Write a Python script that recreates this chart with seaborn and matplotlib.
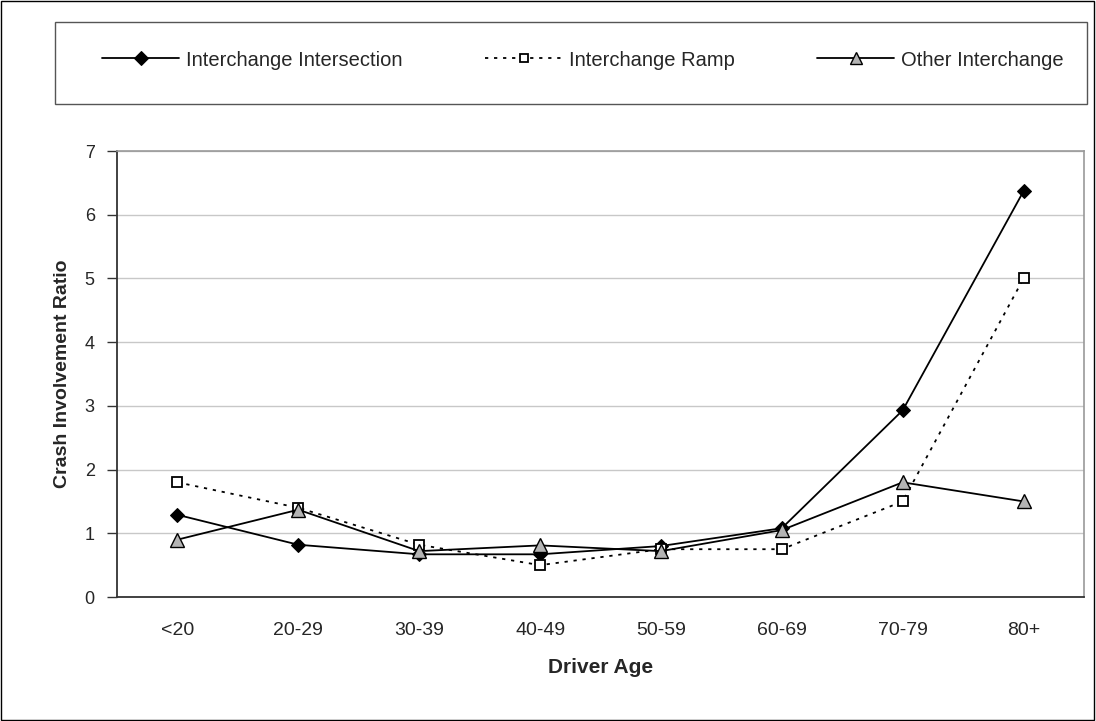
import matplotlib
matplotlib.use("Agg")
import matplotlib.pyplot as plt
import seaborn as sns
import pandas as pd
from matplotlib.patches import Rectangle
from matplotlib.ticker import FixedLocator

ages = ["<20", "20-29", "30-39", "40-49", "50-59", "60-69", "70-79", "80+"]
intersection = [1.29, 0.82, 0.67, 0.67, 0.80, 1.08, 2.93, 6.37]
ramp = [1.80, 1.40, 0.82, 0.50, 0.75, 0.75, 1.50, 5.00]
other = [0.90, 1.37, 0.72, 0.81, 0.72, 1.05, 1.80, 1.50]
series_names = ["Interchange Intersection", "Interchange Ramp", "Other Interchange"]
y_ticks = [0, 1, 2, 3, 4, 5, 6, 7]

sns.set_style("white")
plt.rcParams['font.family'] = ['Liberation Sans', 'DejaVu Sans']

rows = []
for name, vals in zip(series_names, [intersection, ramp, other]):
    for i, (a, v) in enumerate(zip(ages, vals)):
        rows.append({"pos": i, "age": a, "ratio": v, "series": name})
df = pd.DataFrame(rows)

fig = plt.figure(figsize=(10.96, 7.21), dpi=100)
fig.patch.set_facecolor("white")
fig.patches.append(Rectangle((0.0005, 0.001), 0.998, 0.998, transform=fig.transFigure,
                             fill=False, edgecolor="black", linewidth=1.0))
ax = fig.add_axes([117/1096, 1 - 597/721, (1084-117)/1096, (597-151)/721])

palette = {n: "black" for n in series_names}
dashes = {series_names[0]: "", series_names[1]: (1.8, 3.2), series_names[2]: ""}
markers = {series_names[0]: "D", series_names[1]: "s", series_names[2]: "^"}

sns.lineplot(data=df, x="pos", y="ratio", hue="series", style="series",
             palette=palette, dashes=dashes, markers=markers, sort=False,
             linewidth=1.3, ax=ax, legend=True)

def style_line(line, name, legend=False):
    if name == series_names[0]:
        line.set_markerfacecolor("black"); line.set_markeredgecolor("black")
        line.set_markersize(7)
    elif name == series_names[1]:
        line.set_markerfacecolor("white"); line.set_markeredgecolor("black")
        line.set_markersize(6 if legend else 7); line.set_markeredgewidth(1.3)
    else:
        line.set_markerfacecolor("#b4b4b4"); line.set_markeredgecolor("black")
        line.set_markersize(8 if legend else 9.5); line.set_markeredgewidth(1.0)

for line, name in zip(ax.get_lines()[:3], series_names):
    style_line(line, name)

handles, labels = ax.get_legend_handles_labels()
ax.get_legend().remove()
for h, name in zip(handles, labels):
    style_line(h, name, legend=True)

ax.set_xlim(-0.5, len(ages) - 0.5)
ax.set_ylim(0, 7)
ax.set_yticks(y_ticks)
ax.set_yticklabels([str(t) for t in y_ticks], fontsize=13)
ax.set_xticks(range(len(ages)))
ax.set_xticklabels(ages, fontsize=14)
ax.xaxis.set_minor_locator(FixedLocator([i - 0.5 for i in range(len(ages) + 1)]))
ax.tick_params(axis="x", which="major", length=0, pad=18)
ax.tick_params(axis="x", which="minor", length=6, width=1, color="#333333", direction="out")
ax.tick_params(axis="y", length=7, width=1, color="#333333", direction="out", pad=9, left=True)
ax.grid(axis="y", color="#c8c8c8", linewidth=1)
ax.set_axisbelow(True)

for s in ["top", "right"]:
    ax.spines[s].set_color("#999999"); ax.spines[s].set_linewidth(1.2)
for s in ["left", "bottom"]:
    ax.spines[s].set_color("#333333"); ax.spines[s].set_linewidth(1.3)

ax.set_xlabel("Driver Age", fontsize=15, fontweight="bold", labelpad=14)
ax.set_ylabel("Crash Involvement Ratio", fontsize=14, fontweight="bold", labelpad=10)

# legend box
fig.patches.append(Rectangle((55/1096, 1 - 104/721), (1087-55)/1096, (104-22)/721,
                             transform=fig.transFigure, fill=False, edgecolor="#555555",
                             linewidth=1.0))
fig.legend(handles, labels, loc="center", bbox_to_anchor=(583/1096, 1 - 60/721),
           ncol=3, frameon=False, fontsize=14.5, handlelength=3.83, handletextpad=0.33,
           columnspacing=4.1, borderaxespad=0)

fig.savefig("out.png", dpi=100)
